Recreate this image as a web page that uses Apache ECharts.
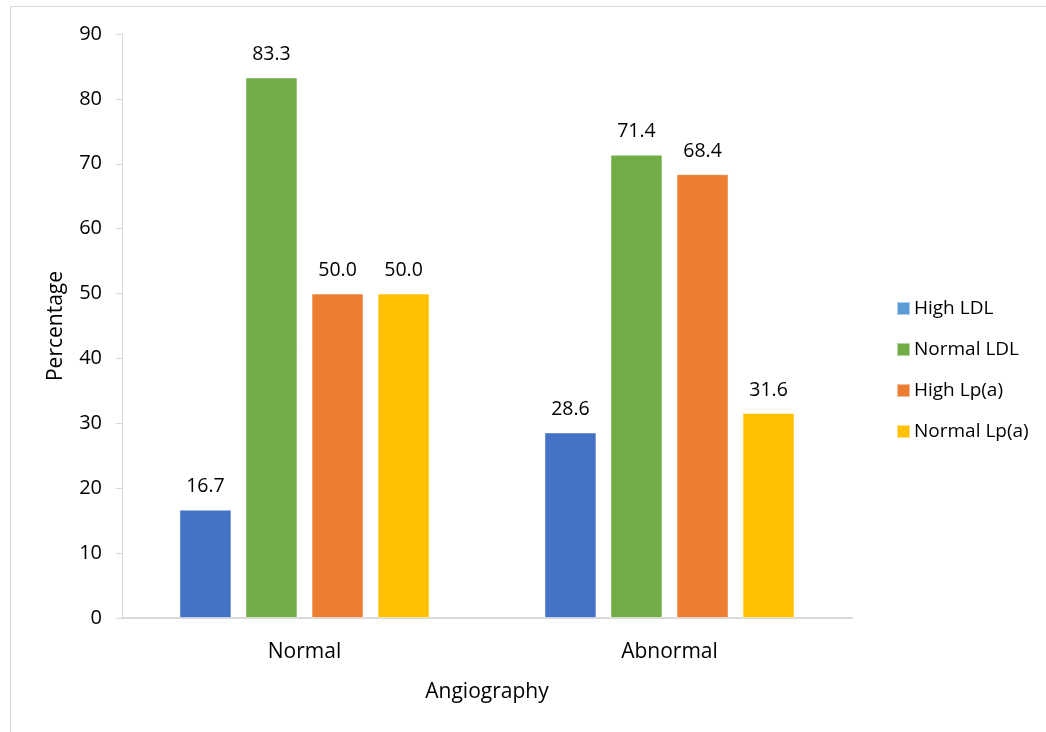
<!DOCTYPE html>
<html>
<head>
<meta charset="utf-8">
<script src="https://cdn.jsdelivr.net/npm/echarts@6/dist/echarts.min.js"></script>
<style>
  html, body { margin: 0; padding: 0; background: #fff; }
  #frame { position: absolute; left: 10px; top: 6px; width: 1046px; height: 740px; border: 1px solid #d9d9d9; box-sizing: border-box; }
  #chart { position: absolute; left: 0; top: 0; width: 1046px; height: 732px; }
</style>
</head>
<body>
<div id="frame"></div>
<div id="chart"></div>
<script>
// Angiography groups and the share of each lipid profile within them
const categories = ['Normal', 'Abnormal'];
const seriesNames = ['High LDL', 'Normal LDL', 'High Lp(a)', 'Normal Lp(a)'];
const highLDL = [16.7, 28.6];
const normalLDL = [83.3, 71.4];
const highLpa = [50.0, 68.4];
const normalLpa = [50.0, 31.6];
const yTicks = [0, 10, 20, 30, 40, 50, 60, 70, 80, 90];

const barColors = ['#4472C4', '#70AD47', '#ED7D31', '#FFC000'];
const legendColors = ['#5B9BD5', '#70AD47', '#ED7D31', '#FFC000'];
const values = [highLDL, normalLDL, highLpa, normalLpa];
const font = '"Open Sans", "Liberation Sans", sans-serif';

const chart = echarts.init(document.getElementById('chart'), null, { renderer: 'canvas' });

chart.setOption({
  animation: false,
  backgroundColor: 'transparent',
  textStyle: { fontFamily: font },
  grid: { left: 122, right: 194, top: 34, bottom: 114, containLabel: false },
  legend: {
    orient: 'vertical',
    left: 891,
    top: 294,
    itemWidth: 13,
    itemHeight: 13,
    itemGap: 22,
    icon: 'rect',
    textStyle: { fontFamily: font, fontSize: 19, color: '#000', padding: [0, 0, 0, -1] },
    data: seriesNames.map((n, i) => ({ name: n, itemStyle: { color: legendColors[i] } }))
  },
  xAxis: {
    type: 'category',
    data: categories,
    name: 'Angiography',
    nameLocation: 'middle',
    nameGap: 64,
    nameTextStyle: { fontFamily: font, fontSize: 21, color: '#000' },
    axisLine: { lineStyle: { color: '#d9d9d9', width: 2 } },
    axisTick: { show: false },
    axisLabel: { fontFamily: font, fontSize: 21, color: '#000', margin: 24 }
  },
  yAxis: {
    type: 'value',
    min: yTicks[0],
    max: yTicks[yTicks.length - 1],
    interval: 10,
    name: 'Percentage',
    nameLocation: 'middle',
    nameGap: 55,
    nameTextStyle: { fontFamily: font, fontSize: 21, color: '#000' },
    axisLine: { show: true, lineStyle: { color: '#d9d9d9', width: 1 } },
    axisTick: { show: true, length: 6, lineStyle: { color: '#d9d9d9' } },
    splitLine: { show: false },
    axisLabel: { fontFamily: font, fontSize: 20, color: '#000', margin: 20 }
  },
  series: seriesNames.map((n, i) => ({
    name: n,
    type: 'bar',
    data: values[i],
    barWidth: 52,
    barGap: '27%',
    barCategoryGap: '31.5%',
    itemStyle: { color: barColors[i], borderColor: 'rgba(255,255,255,0.5)', borderWidth: 1 },
    label: {
      show: true,
      position: 'top',
      distance: 13,
      fontFamily: font,
      fontSize: 19.5,
      color: '#000',
      formatter: p => p.value.toFixed(1)
    }
  }))
});
</script>
</body>
</html>
